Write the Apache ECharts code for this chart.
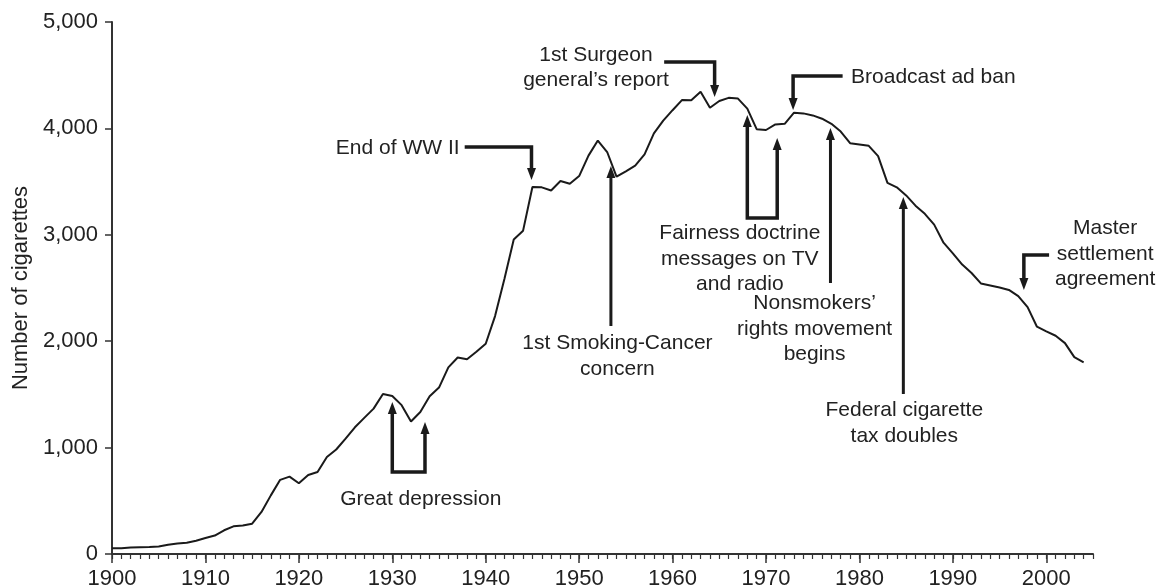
<!DOCTYPE html>
<html>
<head>
<meta charset="utf-8">
<script src="https://cdn.jsdelivr.net/npm/echarts@6/dist/echarts.min.js"></script>
<style>
  html, body { margin: 0; padding: 0; background: #fff; }
  #chart { width: 1164px; height: 587px; }
</style>
</head>
<body>
<div id="chart"></div>
<script>
// Per-capita cigarette consumption, United States, 1900-2004
const years = [];
for (let y = 1900; y <= 2004; y++) years.push(y);

const cigarettes = [
  54, 53, 60, 64, 66, 70, 86, 99, 105, 125,            // 1900s
  151, 173, 223, 260, 267, 285, 395, 551, 697, 727,    // 1910s
  665, 742, 770, 911, 982, 1085, 1191, 1279, 1366, 1504, // 1920s
  1485, 1399, 1245, 1334, 1483, 1564, 1754, 1847, 1830, 1900, // 1930s
  1976, 2236, 2585, 2956, 3039, 3449, 3446, 3416, 3505, 3480, // 1940s
  3552, 3744, 3886, 3778, 3546, 3597, 3650, 3755, 3953, 4073, // 1950s
  4171, 4266, 4265, 4345, 4194, 4258, 4287, 4280, 4186, 3993, // 1960s
  3985, 4037, 4043, 4148, 4141, 4122, 4091, 4043, 3970, 3861, // 1970s
  3849, 3836, 3739, 3488, 3446, 3370, 3274, 3197, 3096, 2926, // 1980s
  2826, 2720, 2641, 2543, 2524, 2505, 2482, 2423, 2320, 2136, // 1990s
  2092, 2051, 1982, 1850, 1800                          // 2000s
];

const yTicks = [0, 1000, 2000, 3000, 4000, 5000];

// Event callouts: leader path in (year, value) space, arrowheads, label lines
const eventLabels = [
  ['End of WW II'],
  ['1st Smoking-Cancer', 'concern'],
  ['Great depression'],
  ['1st Surgeon', 'general\u2019s report'],
  ['Broadcast ad ban'],
  ['Fairness doctrine', 'messages on TV', 'and radio'],
  ['Nonsmokers\u2019', 'rights movement', 'begins'],
  ['Federal cigarette', 'tax doubles'],
  ['Master', 'settlement', 'agreement']
];
const eventPaths = [
  [[1937.75, 3825], [1944.9, 3825], [1944.9, 3515]],
  [[1953.4, 2143], [1953.4, 3647]],
  [[1930.0, 1429], [1930.0, 771], [1933.5, 771], [1933.5, 1241]],
  [[1959.1, 4624], [1964.5, 4624], [1964.5, 4295]],
  [[1978.2, 4492], [1972.9, 4492], [1972.9, 4173]],
  [[1968.0, 4126], [1968.0, 3158], [1971.2, 3158], [1971.2, 3910]],
  [[1976.9, 2547], [1976.9, 4004]],
  [[1984.7, 1504], [1984.7, 3355]],
  [[2000.3, 2810], [1997.6, 2810], [1997.6, 2481]]
];
const eventHeads = ['end', 'end', 'both', 'end', 'end', 'both', 'end', 'end', 'end'];
const eventLabelAt = [
  [1937.2, 3816], [1954.1, 1861], [1933.05, 517], [1951.8, 4572], [1979.1, 4483],
  [1967.2, 2773], [1975.2, 2115], [1984.8, 1231], [2006.3, 2820]
];
const eventLabelAlign = ['right', 'center', 'center', 'center', 'left', 'center', 'center', 'center', 'center'];

const FONT = '"Liberation Sans", Arial, Helvetica, sans-serif';
const INK = '#1a1a1a';
const TEXT = '#222';
const AXIS = '#333';

const chart = echarts.init(document.getElementById('chart'), null, { renderer: 'canvas' });

const option = {
  animation: false,
  backgroundColor: '#fff',
  grid: {
    left: 112, right: 71, top: 22, bottom: 33,
    containLabel: false, outerBoundsMode: 'none'
  },
  xAxis: [
    {
      type: 'value', min: 1900, max: 2005, interval: 10,
      axisLine: { show: true, lineStyle: { color: AXIS, width: 2 } },
      axisTick: { show: true, length: 9, lineStyle: { color: AXIS, width: 1.5 } },
      axisLabel: {
        show: true, margin: 14, color: TEXT, fontSize: 22, fontFamily: FONT,
        showMaxLabel: false, formatter: v => String(v)
      },
      splitLine: { show: false }
    },
    {
      // yearly minor ticks
      type: 'value', min: 1900, max: 2005, interval: 1, position: 'bottom',
      axisLine: { show: false },
      axisTick: { show: true, length: 5, lineStyle: { color: AXIS, width: 1.2 } },
      axisLabel: { show: false },
      splitLine: { show: false }
    }
  ],
  yAxis: {
    type: 'value', min: yTicks[0], max: yTicks[yTicks.length - 1], interval: 1000,
    name: 'Number of cigarettes', nameLocation: 'middle', nameRotate: 90, nameGap: 80,
    nameTextStyle: { color: TEXT, fontSize: 22, fontFamily: FONT },
    axisLine: { show: true, lineStyle: { color: AXIS, width: 2 } },
    axisTick: { show: true, length: 7, lineStyle: { color: AXIS, width: 1.5 } },
    axisLabel: {
      margin: 14, color: TEXT, fontSize: 22, fontFamily: FONT,
      formatter: v => v.toLocaleString('en-US')
    },
    splitLine: { show: false }
  },
  series: [{
    type: 'line',
    data: years.map((y, i) => [y, cigarettes[i]]),
    showSymbol: false,
    lineStyle: { color: INK, width: 2 },
    xAxisIndex: 0, yAxisIndex: 0
  }]
};
chart.setOption(option);

// Build callout arrows and labels in pixel space from data coordinates
function px(p) { return chart.convertToPixel({ xAxisIndex: 0, yAxisIndex: 0 }, p); }

function arrowHead(tip, from, len, half) {
  const dx = tip[0] - from[0], dy = tip[1] - from[1];
  const d = Math.hypot(dx, dy) || 1;
  const ux = dx / d, uy = dy / d;
  const bx = tip[0] - ux * len, by = tip[1] - uy * len;
  return {
    base: [bx + ux * 1, by + uy * 1],
    poly: [tip, [bx - uy * half, by + ux * half], [bx + uy * half, by - ux * half]]
  };
}

const elements = [];
eventPaths.forEach((path, i) => {
  const pts = path.map(px);
  const heads = eventHeads[i];
  const straight = pts.length === 2;
  const w = straight ? 3 : 3.5;
  const HL = 12, HW = 4.5;
  const linePts = pts.map(p => p.slice());
  if (heads === 'end' || heads === 'both') {
    const n = pts.length;
    const h = arrowHead(pts[n - 1], pts[n - 2], HL, HW);
    linePts[n - 1] = h.base;
    elements.push({ type: 'polygon', shape: { points: h.poly }, style: { fill: INK }, z: 10 });
  }
  if (heads === 'start' || heads === 'both') {
    const h = arrowHead(pts[0], pts[1], HL, HW);
    linePts[0] = h.base;
    elements.push({ type: 'polygon', shape: { points: h.poly }, style: { fill: INK }, z: 10 });
  }
  elements.push({
    type: 'polyline', shape: { points: linePts },
    style: { stroke: INK, lineWidth: w, fill: null, lineJoin: 'miter' }, z: 10
  });

  const at = px(eventLabelAt[i]);
  elements.push({
    type: 'text', x: at[0], y: at[1], z: 10,
    style: {
      text: eventLabels[i].join('\n'),
      font: '21px ' + FONT, fill: TEXT, lineHeight: 25.5,
      align: eventLabelAlign[i], verticalAlign: 'middle'
    }
  });
});

chart.setOption({ graphic: { elements } });
</script>
</body>
</html>
